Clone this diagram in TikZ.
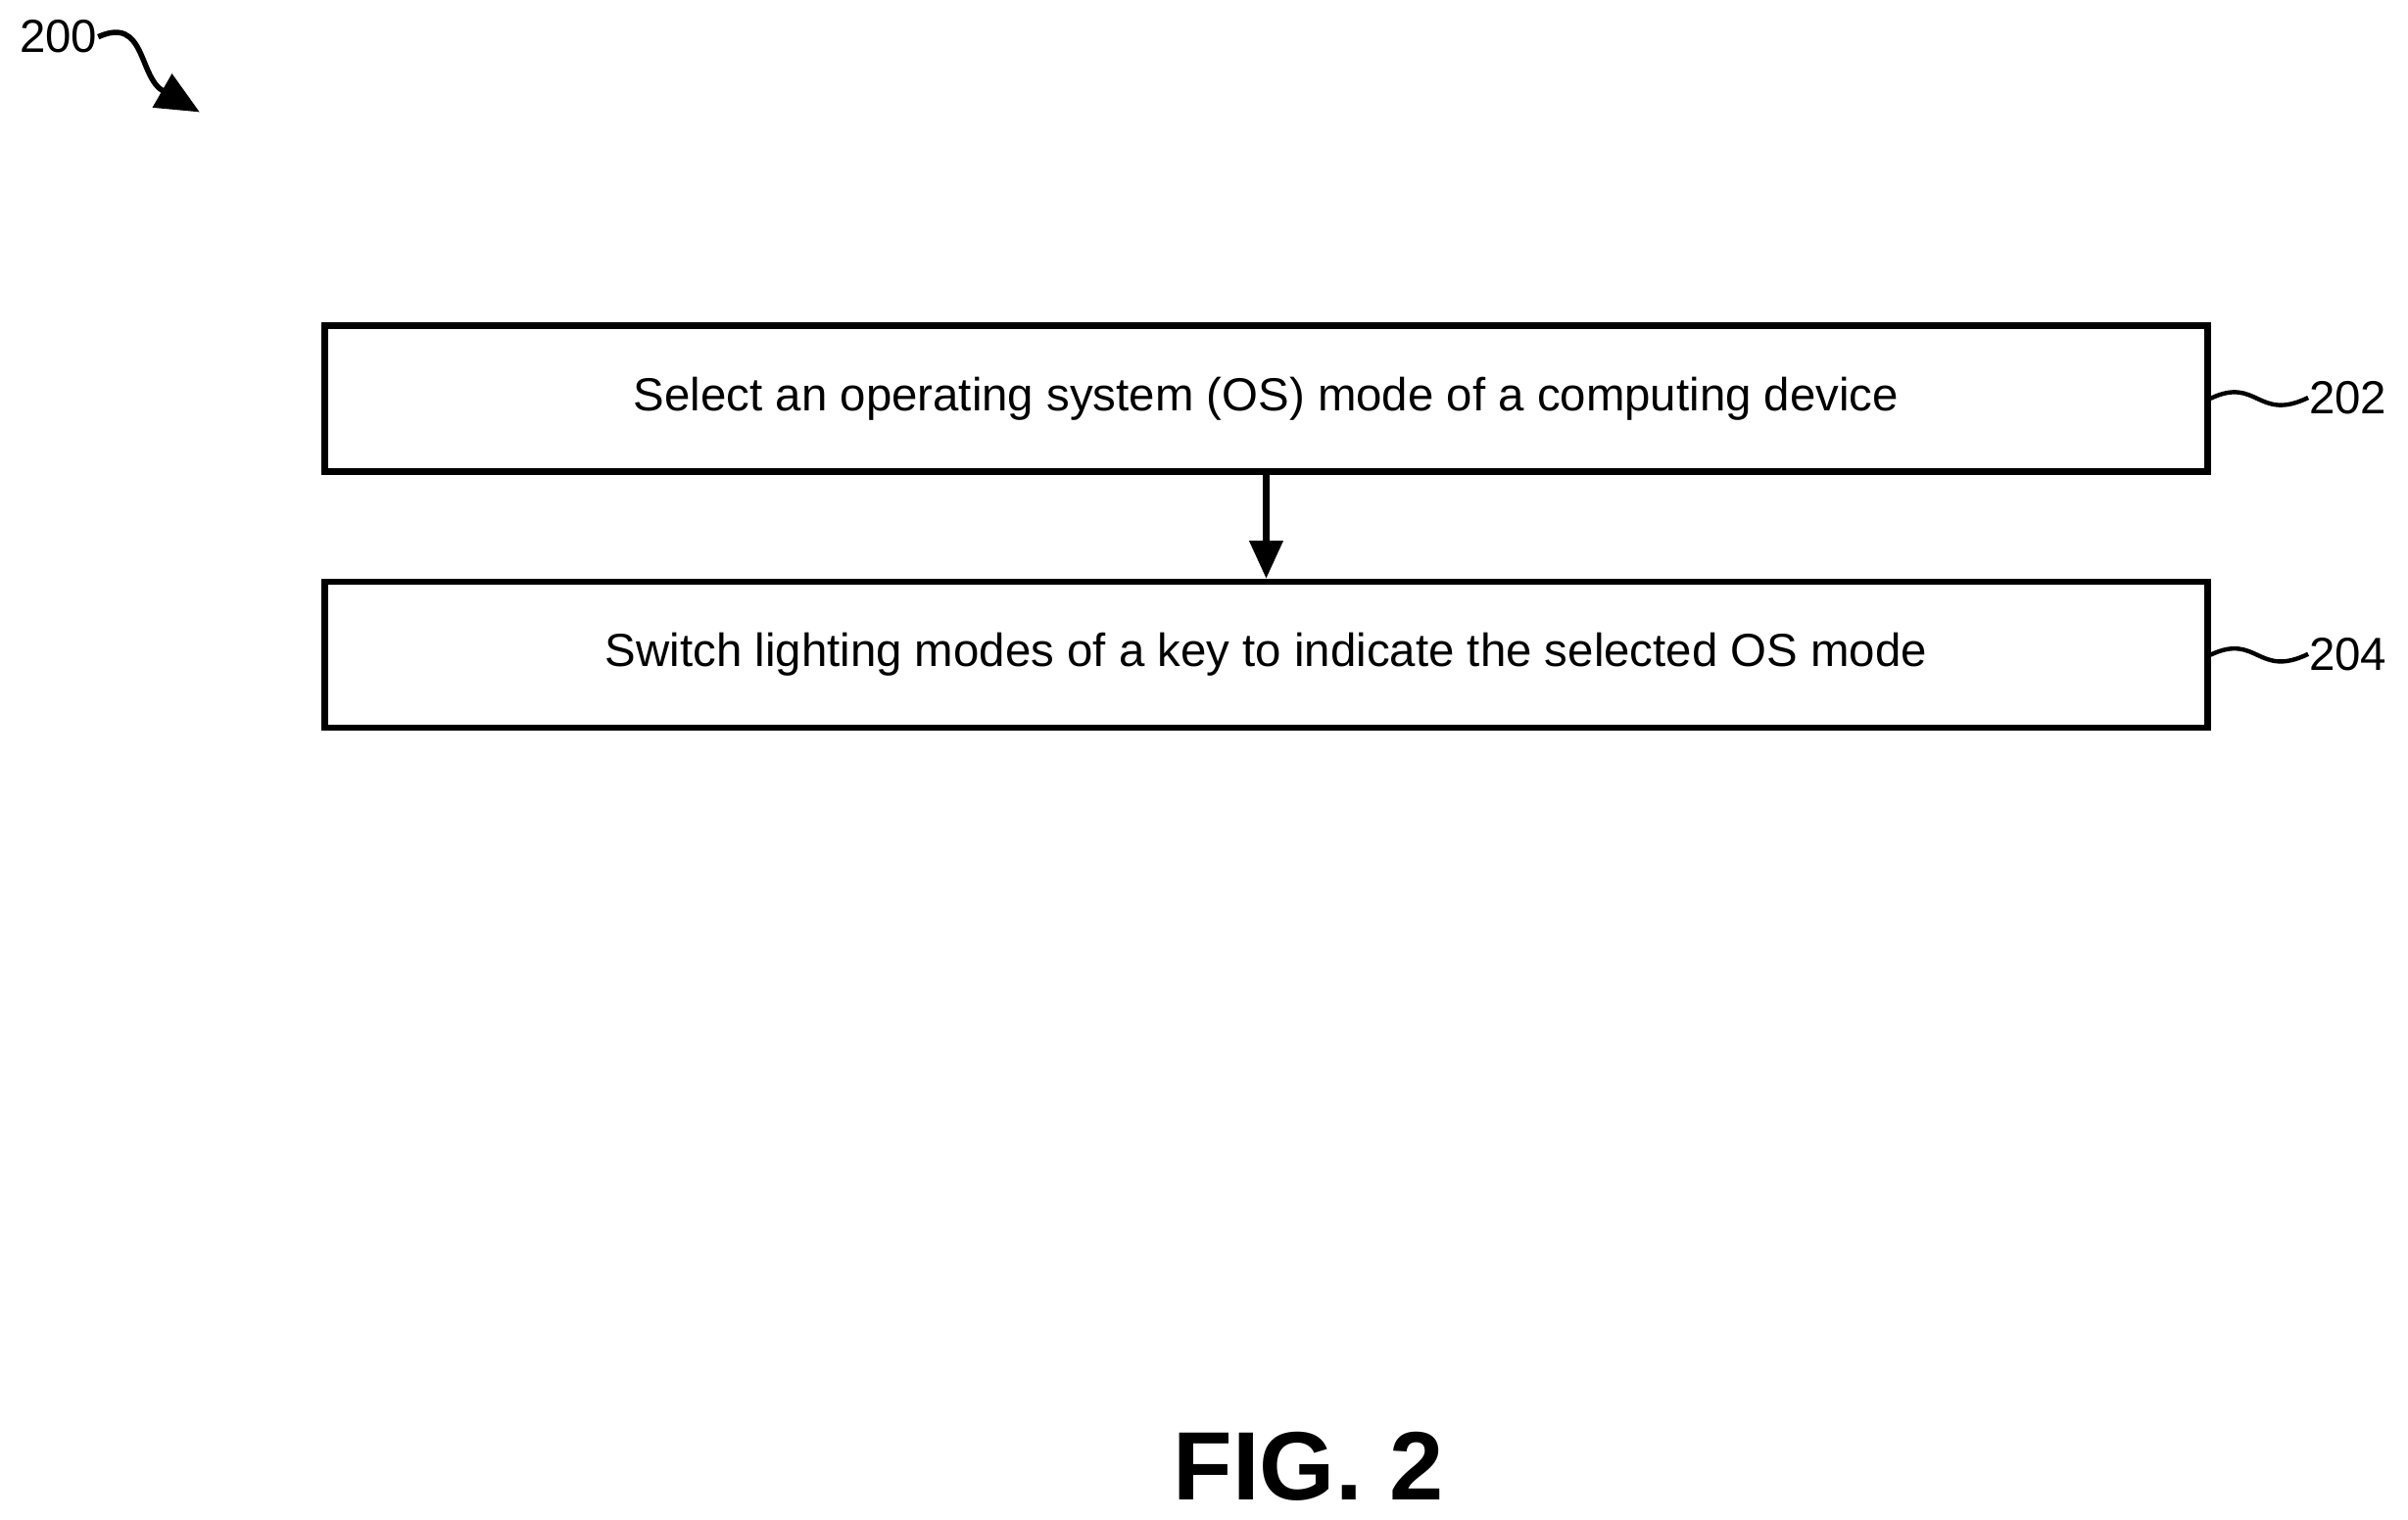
\documentclass[tikz,border=0pt]{standalone}
\usepackage{fontspec}
\setmainfont{Liberation Sans}
\usetikzlibrary{arrows.meta}
\begin{document}
\begin{tikzpicture}[x=0.01cm,y=-0.01cm,
  stepbox/.style={draw,line width=1.2pt,minimum width=12.25cm,minimum height=0.95cm,inner sep=0pt,font=\fontsize{8.6}{10}\selectfont},
  lbl/.style={font=\fontsize{8.6}{10}\selectfont,inner sep=0pt},
  squig/.style={line width=0.8pt}]
\useasboundingbox (0,0) rectangle (1568,990);
\node[stepbox] (b1) at (824.5,259.5) {Select an operating system (OS) mode of a computing device};
\node[stepbox] (b2) at (824.5,426.5) {Switch lighting modes of a key to indicate the selected OS mode};
\draw[line width=1.2pt,-{Triangle[length=7pt,width=6pt]}] (b1.south) -- (b2.north);
\node[lbl,anchor=west] (l202) at (1503,259) {202};
\node[lbl,anchor=west] (l204) at (1503,426) {204};
\draw[squig] (b1.east) .. controls (1470,245) and (1470,275) .. (l202.west);
\draw[squig] (b2.east) .. controls (1470,412) and (1470,442) .. (l204.west);
\node[lbl] (l200) at (38,24) {200};
\coordinate (t200) at (130,73);
\draw[line width=1pt,-{Triangle[length=8pt,width=7pt]}] (l200.east) .. controls (95,10) and (90,50) .. (t200);
\node[font=\bfseries\fontsize{18}{20}\selectfont,inner sep=0pt] (fig) at (852,955) {FIG. 2};
\end{tikzpicture}
\end{document}
